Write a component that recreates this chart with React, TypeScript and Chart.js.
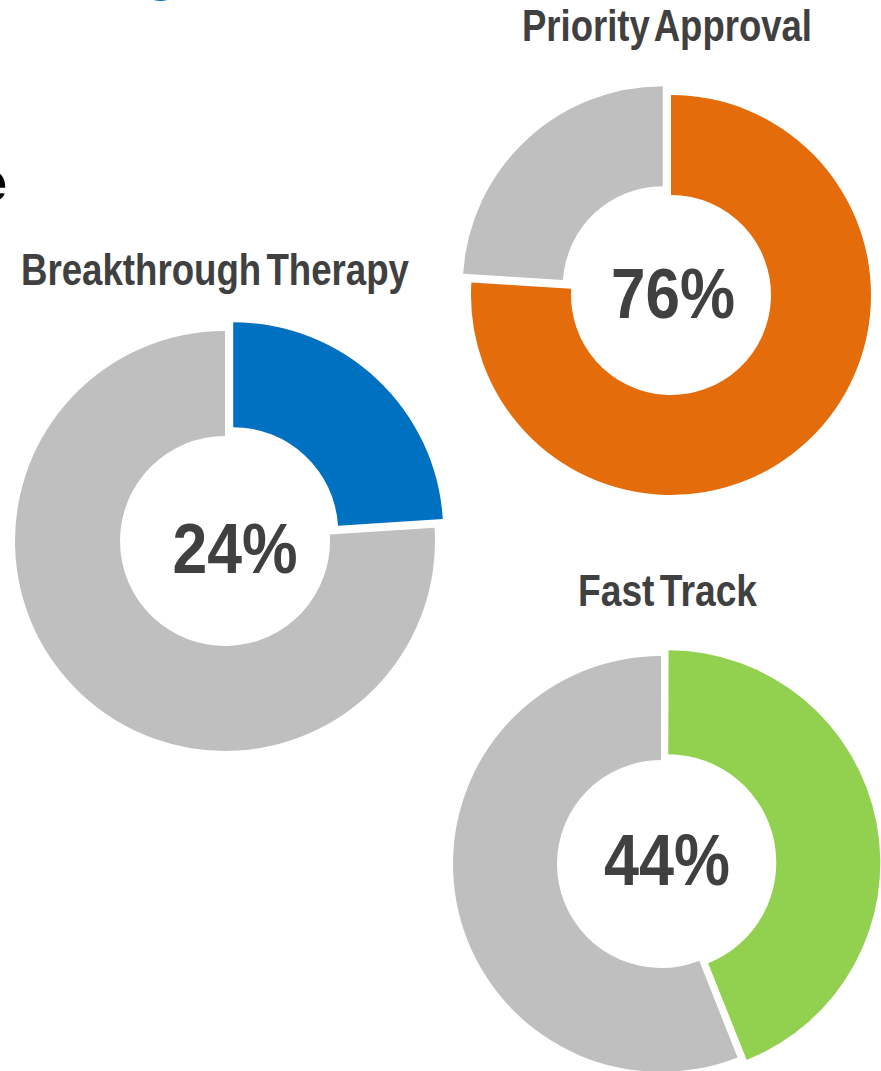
import React, { useEffect, useLayoutEffect, useRef } from "react";
import { Chart, registerables } from "chart.js";

Chart.register(...registerables);

// ---- Data ----
const chartTitles = ["Breakthrough Therapy", "Priority Approval", "Fast Track"];
const highlightValues = [24, 76, 44];
const remainderValues = [76, 24, 56];
const centerLabels = ["24%", "76%", "44%"];
const sliceLabels = ["Designated", "Other"];

// ---- Styles ----
const highlightColors = ["#0070C0", "#E46C0A", "#92D050"];
const restColor = "#BFBFBF";
const textColor = "#404040";
const titleFont = '"Liberation Sans", Arial, sans-serif';
const numberFont = '"Liberation Sans", Arial, sans-serif';

// ---- Layout (positions / sizes) ----
const layouts = [
  { cx: 225, cy: 541, size: 468, offsets: [48, 0], label: { dx: 10, dy: 32, w: 125, fs: 70 }, title: { left: 21, baseline: 285, width: 388 } },
  { cx: 671, cy: 295, size: 448, offsets: [0, 48], label: { dx: 2, dy: 23, w: 124, fs: 70 }, title: { left: 522, baseline: 41, width: 290 } },
  { cx: 661, cy: 864, size: 444, offsets: [28, 0], label: { dx: 6, dy: 21, w: 126, fs: 72 }, title: { left: 578, baseline: 606, width: 179 } },
];
const titleSize = 45;

const centerLabelPlugin = {
  id: "centerLabel",
  afterDatasetsDraw(chart: any, _args: any, opts: any) {
    const { ctx, chartArea } = chart;
    const cx = (chartArea.left + chartArea.right) / 2 + opts.dx;
    const by = (chartArea.top + chartArea.bottom) / 2 + opts.dy;
    ctx.save();
    ctx.font = `bold ${opts.fontSize}px ${numberFont}`;
    const w = ctx.measureText(opts.text).width;
    ctx.translate(cx, by);
    ctx.scale(opts.width / w, 1);
    ctx.fillStyle = opts.color;
    ctx.textAlign = "center";
    ctx.textBaseline = "alphabetic";
    ctx.fillText(opts.text, 0, 0);
    ctx.restore();
  },
};

function Donut({ index }: { index: number }) {
  const ref = useRef<HTMLCanvasElement>(null);
  const lay = layouts[index];
  useEffect(() => {
    if (!ref.current) return;
    const chart = new Chart(ref.current, {
      type: "doughnut",
      data: {
        labels: sliceLabels,
        datasets: [
          {
            data: [highlightValues[index], remainderValues[index]],
            backgroundColor: [highlightColors[index], restColor],
            borderWidth: 0,
            hoverBorderWidth: 0,
            offset: lay.offsets,
            hoverOffset: 0,
          } as any,
        ],
      },
      options: {
        responsive: false,
        maintainAspectRatio: false,
        animation: false,
        devicePixelRatio: 1,
        events: [],
        cutout: "50%",
        layout: { padding: 0 },
        plugins: {
          legend: { display: false },
          tooltip: { enabled: false },
          title: { display: false },
          centerLabel: {
            text: centerLabels[index],
            dx: lay.label.dx,
            dy: lay.label.dy,
            width: lay.label.w,
            fontSize: lay.label.fs,
            color: textColor,
          },
        } as any,
      },
      plugins: [centerLabelPlugin],
    });
    return () => chart.destroy();
  }, [index]);
  return (
    <canvas
      ref={ref}
      width={lay.size}
      height={lay.size}
      style={{
        position: "absolute",
        left: lay.cx - lay.size / 2,
        top: lay.cy - lay.size / 2,
        width: lay.size,
        height: lay.size,
      }}
    />
  );
}

function FitText({ text, left, baseline, width, size, color, family, weight, wordSpacing }: any) {
  const ref = useRef<HTMLSpanElement>(null);
  useLayoutEffect(() => {
    const el = ref.current;
    if (!el || width == null) return;
    el.style.transform = "none";
    const w = el.getBoundingClientRect().width;
    if (w > 0) el.style.transform = `scaleX(${width / w})`;
  }, [text, width]);
  return (
    <span
      ref={ref}
      style={{
        position: "absolute",
        left,
        top: baseline - 0.8465 * size,
        fontFamily: family,
        fontWeight: weight,
        fontSize: size,
        lineHeight: `${size}px`,
        color,
        whiteSpace: "nowrap",
        wordSpacing: wordSpacing || 0,
        letterSpacing: 0,
        transformOrigin: "left top",
        display: "inline-block",
      }}
    >
      {text}
    </span>
  );
}

export default function App() {
  return (
    <div
      style={{
        position: "absolute",
        left: 0,
        top: 0,
        width: 881,
        height: 1071,
        overflow: "hidden",
        background: "#ffffff",
      }}
    >
      {/* cropped fragments of surrounding slide text */}
      <FitText text="g" left={144} baseline={-11} size={56} color="#0070C0" family={numberFont} weight="bold" />
      <FitText text="e" left={-24} baseline={201} size={56} color="#000000" family={numberFont} weight="bold" />
      {layouts.map((l, i) => (
        <FitText
          key={"t" + i}
          text={chartTitles[i]}
          left={l.title.left}
          baseline={l.title.baseline}
          width={l.title.width}
          size={titleSize}
          color={textColor}
          family={titleFont}
          weight="bold"
          wordSpacing="-6px"
        />
      ))}
      {layouts.map((_, i) => (
        <Donut key={"d" + i} index={i} />
      ))}
    </div>
  );
}
